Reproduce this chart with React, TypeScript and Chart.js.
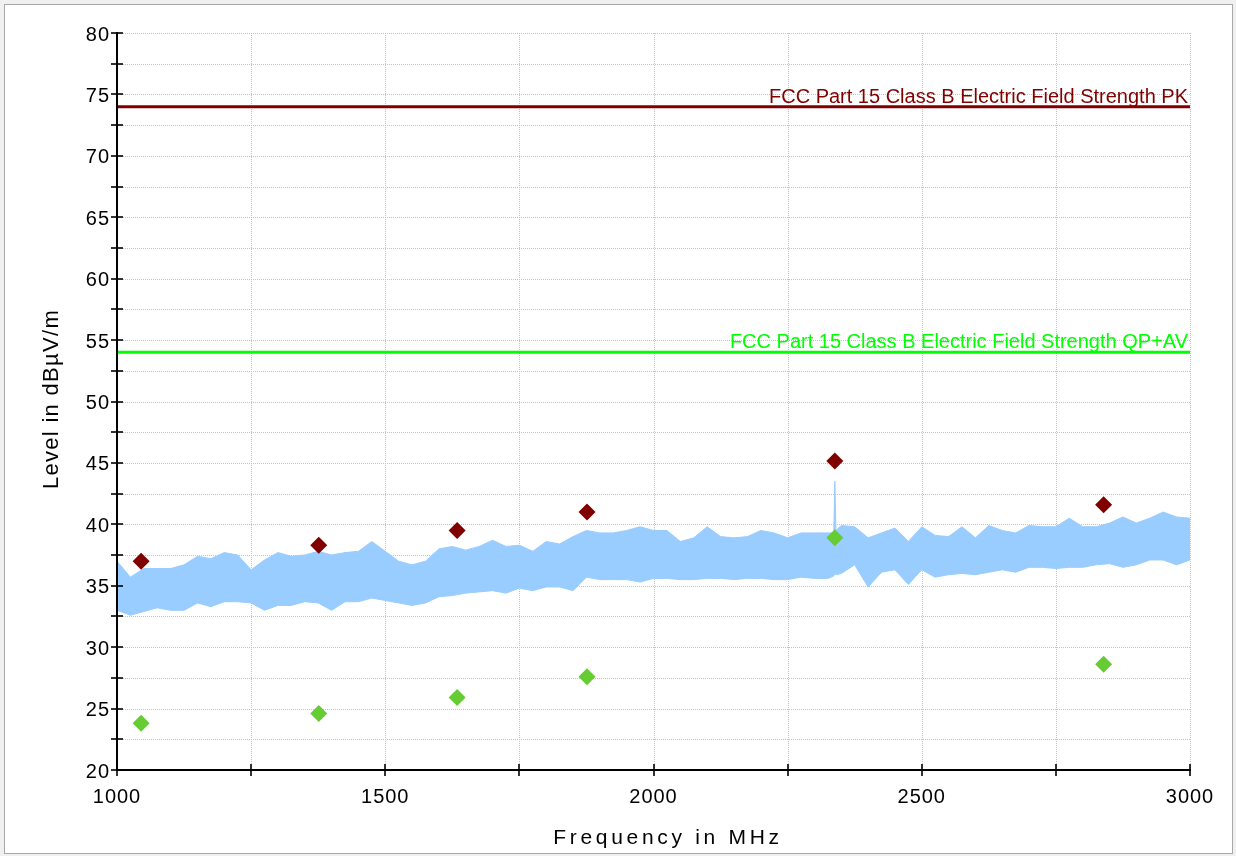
import React, { useEffect, useRef } from "react";
import { Chart, registerables } from "chart.js";

Chart.register(...registerables);

const TRACE_FREQ = [
  1000, 1025, 1050, 1075, 1100, 1125, 1150, 1175, 1200, 1225, 1250, 1275, 1300, 1325, 1350, 1375,
  1400, 1425, 1450, 1475, 1500, 1525, 1550, 1575, 1600, 1625, 1650, 1675, 1700, 1725, 1750, 1775,
  1800, 1825, 1850, 1875, 1900, 1925, 1950, 1975, 2000, 2025, 2050, 2075, 2100, 2125, 2150, 2175,
  2200, 2225, 2250, 2275, 2300, 2325, 2336, 2338, 2340, 2350, 2375, 2400, 2425, 2450, 2475, 2500,
  2525, 2550, 2575, 2600, 2625, 2650, 2675, 2700, 2725, 2750, 2775, 2800, 2825, 2850, 2875, 2900,
  2925, 2950, 2975, 3000,
];
const TRACE_MAX = [
  37.0, 35.7, 36.4, 36.4, 36.4, 36.7, 37.4, 37.2, 37.7, 37.5, 36.3, 37.1, 37.7, 37.4, 37.5, 37.8,
  37.5, 37.7, 37.8, 38.6, 37.8, 37.0, 36.7, 37.0, 38.0, 38.2, 37.9, 38.2, 38.7, 38.2, 38.3, 37.8,
  38.6, 38.4, 39.0, 39.5, 39.3, 39.3, 39.5, 39.8, 39.5, 39.5, 38.6, 38.9, 39.8, 39.0, 38.9, 39.0,
  39.5, 39.3, 38.9, 39.3, 39.3, 39.3, 39.3, 43.5, 39.5, 39.9, 39.8, 38.9, 39.3, 39.7, 38.6, 39.8,
  39.1, 39.0, 39.8, 38.9, 39.9, 39.5, 39.3, 39.9, 39.8, 39.8, 40.5, 39.8, 39.8, 40.1, 40.6, 40.1,
  40.5, 41.0, 40.6, 40.5,
];
const TRACE_MIN = [
  33.0, 32.6, 32.9, 33.2, 33.0, 33.0, 33.6, 33.3, 33.7, 33.7, 33.6, 33.0, 33.4, 33.4, 33.7, 33.6,
  33.0, 33.7, 33.7, 34.0, 33.8, 33.6, 33.4, 33.6, 34.1, 34.2, 34.4, 34.5, 34.6, 34.4, 34.8, 34.6,
  34.9, 34.9, 34.6, 35.7, 35.5, 35.5, 35.5, 35.3, 35.6, 35.6, 35.5, 35.5, 35.6, 35.6, 35.5, 35.6,
  35.6, 35.5, 35.5, 35.7, 35.6, 35.6, 35.8, 36.0, 35.9, 36.0, 36.7, 34.9, 36.1, 36.3, 35.1, 36.3,
  35.7, 35.9, 36.0, 35.9, 36.1, 36.3, 36.1, 36.5, 36.5, 36.4, 36.5, 36.5, 36.7, 36.8, 36.5, 36.7,
  37.1, 37.1, 36.7, 37.1,
];

// Final measurement points
const FINAL_FREQ = [1045, 1376, 1634, 1876, 2338, 2839];
const PK_LEVEL = [37.0, 38.3, 39.5, 41.0, 45.15, 41.6];
const AV_LEVEL = [23.8, 24.6, 25.9, 27.6, 38.9, 28.6];

// Limits
const LIMIT_FREQ = [1000, 3000];
const LIMIT_PK = [74, 74];
const LIMIT_AV = [54, 54];
const LIMIT_PK_LABEL = "FCC Part 15 Class B Electric Field Strength PK";
const LIMIT_AV_LABEL = "FCC Part 15 Class B Electric Field Strength QP+AV";

// Axes
const X_MIN = 1000;
const X_MAX = 3000;
const Y_MIN = 20;
const Y_MAX = 80;
const X_LABEL_STEP = 500;
const Y_LABEL_STEP = 5;
const X_MINOR = [1000, 1250, 1500, 1750, 2000, 2250, 2500, 2750, 3000];
const Y_MINOR = [20, 22.5, 25, 27.5, 30, 32.5, 35, 37.5, 40, 42.5, 45, 47.5, 50, 52.5, 55, 57.5, 60, 62.5, 65, 67.5, 70, 72.5, 75, 77.5, 80];
const X_TITLE = "Frequency in MHz";
const Y_TITLE = "Level in dBµV/m";

const FONT = "'Liberation Sans', Arial, Helvetica, sans-serif";

const pts = (xs: number[], ys: number[]) => xs.map((x, i) => ({ x, y: ys[i] }));

const emcPlugin = {
  id: "emcDecor",
  beforeUpdate(chart: any) {
    chart.ctx.letterSpacing = "1px";
  },
  beforeDraw(chart: any) {
    chart.ctx.letterSpacing = "1px";
  },
  beforeDatasetsDraw(chart: any) {
    const { ctx, chartArea: a, scales } = chart;
    const x = scales.x;
    const y = scales.y;
    ctx.save();
    ctx.strokeStyle = "#c2c2c2";
    ctx.lineWidth = 1;
    ctx.setLineDash([1, 1]);
    Y_MINOR.forEach((v) => {
      if (v === Y_MIN) return;
      const py = Math.round(y.getPixelForValue(v)) + 0.5;
      ctx.beginPath();
      ctx.moveTo(a.left, py);
      ctx.lineTo(a.right, py);
      ctx.stroke();
    });
    X_MINOR.forEach((v) => {
      if (v === X_MIN) return;
      const px = Math.round(x.getPixelForValue(v)) + 0.5;
      ctx.beginPath();
      ctx.moveTo(px, a.top);
      ctx.lineTo(px, a.bottom);
      ctx.stroke();
    });
    ctx.restore();
  },
  afterDatasetsDraw(chart: any) {
    const { ctx, chartArea: a, scales } = chart;
    const x = scales.x;
    const y = scales.y;
    ctx.save();
    ctx.setLineDash([]);
    ctx.strokeStyle = "#000";
    ctx.lineWidth = 2;
    const left = Math.round(a.left);
    const bottom = Math.round(a.bottom);
    ctx.beginPath();
    ctx.moveTo(left, Math.round(a.top) - 1);
    ctx.lineTo(left, bottom + 1);
    ctx.moveTo(left - 1, bottom);
    ctx.lineTo(Math.round(a.right) + 1, bottom);
    ctx.stroke();
    ctx.lineWidth = 1.6;
    Y_MINOR.forEach((v) => {
      const py = Math.round(y.getPixelForValue(v));
      ctx.beginPath();
      ctx.moveTo(left - 6, py);
      ctx.lineTo(left + 6, py);
      ctx.stroke();
    });
    X_MINOR.forEach((v) => {
      const px = Math.round(x.getPixelForValue(v));
      ctx.beginPath();
      ctx.moveTo(px, bottom - 6);
      ctx.lineTo(px, bottom + 6);
      ctx.stroke();
    });

    // limit labels
    ctx.letterSpacing = "0px";
    ctx.font = `20px ${FONT}`;
    ctx.textAlign = "right";
    ctx.textBaseline = "alphabetic";
    ctx.fillStyle = "#800000";
    ctx.fillText(LIMIT_PK_LABEL, a.right - 2, y.getPixelForValue(LIMIT_PK[0]) - 4);
    ctx.fillStyle = "#00ff00";
    ctx.fillText(LIMIT_AV_LABEL, a.right - 2, y.getPixelForValue(LIMIT_AV[0]) - 4);

    // axis titles
    ctx.fillStyle = "#000";
    ctx.textAlign = "center";
    ctx.textBaseline = "middle";
    ctx.letterSpacing = "3.7px";
    ctx.font = `21px ${FONT}`;
    ctx.fillText(X_TITLE, 668, 838);
    ctx.letterSpacing = "1.3px";
    ctx.font = `22px ${FONT}`;
    ctx.translate(52, 399);
    ctx.rotate(-Math.PI / 2);
    ctx.fillText(Y_TITLE, 0, 0);
    ctx.restore();
  },
};

export default function App() {
  const ref = useRef<HTMLCanvasElement | null>(null);

  useEffect(() => {
    if (!ref.current) return;
    const chart = new Chart(ref.current, {
      type: "line",
      data: {
        datasets: [
          {
            label: "PK final",
            data: pts(FINAL_FREQ, PK_LEVEL),
            showLine: false,
            pointStyle: "rectRot",
            pointRadius: 8.5,
            pointBackgroundColor: "#800000",
            pointBorderColor: "#800000",
            pointBorderWidth: 0,
            order: 0,
          },
          {
            label: "AV final",
            data: pts(FINAL_FREQ, AV_LEVEL),
            showLine: false,
            pointStyle: "rectRot",
            pointRadius: 8.5,
            pointBackgroundColor: "#66cc33",
            pointBorderColor: "#66cc33",
            pointBorderWidth: 0,
            order: 0,
          },
          {
            label: "Limit PK",
            data: pts(LIMIT_FREQ, LIMIT_PK),
            borderColor: "#800000",
            borderWidth: 3,
            pointRadius: 0,
            fill: false,
            order: 1,
          },
          {
            label: "Limit AV",
            data: pts(LIMIT_FREQ, LIMIT_AV),
            borderColor: "#00ff00",
            borderWidth: 3,
            pointRadius: 0,
            fill: false,
            order: 1,
          },
          {
            label: "Trace max",
            data: pts(TRACE_FREQ, TRACE_MAX),
            borderColor: "#99ccff",
            backgroundColor: "#99ccff",
            borderWidth: 1,
            pointRadius: 0,
            tension: 0,
            fill: "+1",
            order: 2,
          },
          {
            label: "Trace min",
            data: pts(TRACE_FREQ, TRACE_MIN),
            borderColor: "#99ccff",
            borderWidth: 1,
            pointRadius: 0,
            tension: 0,
            fill: false,
            order: 3,
          },
        ],
      },
      options: {
        animation: false,
        responsive: true,
        maintainAspectRatio: false,
        parsing: false as any,
        normalized: true,
        layout: { padding: { top: 33, right: 46, left: 0, bottom: 0 } },
        plugins: {
          legend: { display: false },
          tooltip: { enabled: false },
          title: { display: false },
        },
        scales: {
          x: {
            type: "linear",
            min: X_MIN,
            max: X_MAX,
            grid: { display: false, drawTicks: false },
            border: { display: false },
            ticks: {
              stepSize: X_LABEL_STEP,
              autoSkip: false,
              maxRotation: 0,
              padding: 15,
              color: "#000",
              font: { family: FONT, size: 20 },
              callback: (v: any) => String(v),
            },
            afterFit: (s: any) => {
              s.height = 86;
            },
          },
          y: {
            type: "linear",
            min: Y_MIN,
            max: Y_MAX,
            grid: { display: false, drawTicks: false },
            border: { display: false },
            ticks: {
              stepSize: Y_LABEL_STEP,
              autoSkip: false,
              padding: 7,
              labelOffset: 2,
              color: "#000",
              font: { family: FONT, size: 20 },
              callback: (v: any) => String(v),
            },
            afterFit: (s: any) => {
              s.width = 117;
            },
          },
        },
      },
      plugins: [emcPlugin],
    });
    return () => chart.destroy();
  }, []);

  return (
    <div style={{ position: "absolute", left: 0, top: 0, width: 1236, height: 856, background: "#f0f0f0", overflow: "hidden" }}>
      <div
        style={{
          position: "absolute",
          left: 4,
          top: 4,
          width: 1227,
          height: 848,
          border: "1px solid #a8a8a8",
          background: "#fff",
        }}
      />
      <div style={{ position: "absolute", left: 0, top: 0, width: 1236, height: 856 }}>
        <canvas ref={ref} />
      </div>
    </div>
  );
}
